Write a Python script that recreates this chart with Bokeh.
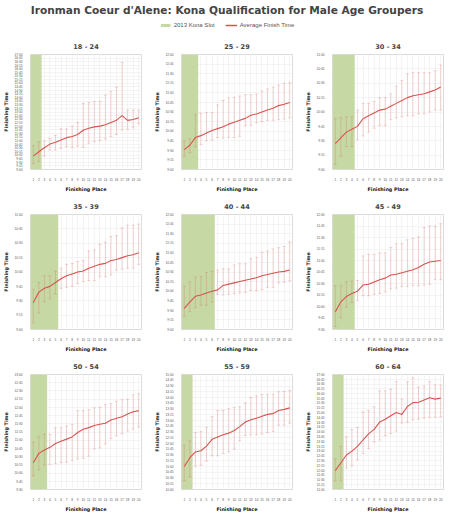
from bokeh.plotting import figure
from bokeh.layouts import gridplot, column
from bokeh.models import (Range1d, FixedTicker, CustomJSTickFormatter, BoxAnnotation,
                          Whisker, TeeHead, ColumnDataSource, Legend, LegendItem)
from bokeh.embed import file_html
from bokeh.resources import INLINE

TITLE = "Ironman Coeur d'Alene: Kona Qualification for Male Age Groupers"
LEGEND_SLOT = "2013 Kona Slot"
LEGEND_AVG = "Average Finish Time"
X_LABEL = "Finishing Place"
Y_LABEL = "Finishing Time"

places = [1, 2, 3, 4, 5, 6, 7, 8, 9, 10, 11, 12, 13, 14, 15, 16, 17, 18, 19, 20]
age_groups = ["18 - 24", "25 - 29", "30 - 34", "35 - 39", "40 - 44", "45 - 49",
              "50 - 54", "55 - 59", "60 - 64"]
kona_slots = [2, 3, 4, 5, 6, 4, 3, 2, 2]
# y axis extent per panel, minutes since midnight (9:00 = 540)
y_start = [540, 540, 540, 540, 540, 570, 570, 600, 660]
y_end = [1020, 720, 660, 660, 720, 720, 780, 900, 1020]

# finishing times in minutes
avg_18_24 = [596, 614, 631, 646, 654, 663, 673, 678, 686, 704, 712, 718, 721, 727, 736, 746, 765, 745, 749, 756]
max_18_24 = [640, 655, 659, 669, 682, 710, 710, 721, 736, 816, 820, 823, 825, 851, 866, 883, 987, 788, 788, 788]
min_18_24 = [565, 573, 596, 621, 622, 628, 635, 631, 637, 633, 650, 656, 660, 667, 678, 686, 705, 708, 714, 730]

avg_25_29 = [571, 578, 590, 593, 597, 601, 604, 607, 611, 614, 617, 620, 625, 627, 630, 633, 636, 640, 642, 645]
max_25_29 = [585, 588, 626, 628, 629, 629, 641, 648, 652, 653, 655, 657, 657, 658, 663, 666, 669, 672, 675, 676]
min_25_29 = [561, 566, 576, 579, 585, 586, 590, 589, 590, 590, 592, 608, 609, 613, 615, 617, 617, 618, 619, 621]

avg_30_34 = [567, 573, 579, 582, 585, 593, 596, 599, 602, 603, 606, 609, 612, 615, 617, 618, 619, 621, 623, 626]
max_30_34 = [593, 594, 595, 595, 602, 609, 609, 611, 615, 615, 619, 627, 633, 640, 641, 641, 641, 641, 643, 649]
min_30_34 = [545, 554, 564, 564, 571, 575, 579, 583, 586, 586, 592, 594, 595, 596, 596, 598, 598, 600, 602, 602]

avg_35_39 = [568, 579, 583, 585, 589, 593, 596, 598, 600, 601, 604, 606, 608, 609, 612, 613, 615, 617, 618, 620]
max_35_39 = [582, 589, 596, 596, 601, 604, 608, 609, 611, 612, 622, 623, 629, 631, 637, 638, 646, 649, 649, 650]
min_35_39 = [547, 557, 569, 572, 577, 583, 584, 585, 588, 590, 591, 591, 595, 595, 597, 602, 603, 604, 604, 608]

avg_40_44 = [573, 583, 592, 594, 597, 600, 602, 609, 611, 613, 615, 617, 619, 621, 624, 626, 628, 630, 631, 633]
max_40_44 = [608, 615, 622, 623, 629, 631, 633, 635, 635, 641, 643, 643, 651, 653, 661, 663, 666, 668, 670, 677]
min_40_44 = [561, 568, 574, 578, 578, 583, 595, 594, 595, 596, 597, 598, 601, 601, 602, 606, 606, 613, 614, 616]

avg_45_49 = [593, 606, 613, 617, 620, 628, 629, 632, 635, 637, 641, 642, 644, 646, 648, 651, 655, 658, 659, 660]
max_45_49 = [627, 627, 632, 633, 634, 666, 668, 668, 670, 670, 677, 682, 682, 687, 689, 691, 703, 705, 705, 708]
min_45_49 = [574, 585, 599, 605, 608, 614, 614, 616, 617, 619, 623, 624, 626, 626, 627, 627, 628, 629, 635, 635]

avg_50_54 = [619, 636, 642, 647, 654, 658, 662, 666, 674, 680, 683, 687, 689, 691, 697, 700, 703, 708, 712, 714]
max_50_54 = [656, 666, 671, 671, 683, 683, 686, 689, 714, 714, 716, 719, 720, 725, 727, 731, 734, 735, 743, 745]
min_50_54 = [595, 606, 615, 616, 617, 619, 620, 623, 626, 627, 631, 644, 646, 653, 663, 668, 672, 677, 680, 684]

avg_55_59 = [660, 683, 698, 701, 713, 731, 737, 743, 747, 754, 764, 776, 782, 786, 791, 796, 798, 806, 809, 813]
max_55_59 = [716, 727, 749, 751, 762, 790, 806, 806, 811, 814, 816, 826, 840, 844, 848, 848, 849, 855, 856, 858]
min_55_59 = [623, 633, 661, 663, 674, 688, 688, 694, 698, 705, 727, 741, 742, 743, 745, 749, 751, 768, 768, 773]

avg_60_64 = [719, 743, 768, 780, 795, 815, 834, 848, 871, 880, 891, 901, 895, 920, 932, 933, 940, 947, 943, 946]
max_60_64 = [756, 795, 824, 848, 854, 903, 907, 919, 969, 969, 974, 998, 943, 997, 1010, 981, 984, 998, 987, 987]
min_60_64 = [687, 689, 727, 734, 753, 773, 788, 809, 815, 829, 835, 843, 868, 870, 878, 880, 883, 886, 886, 888]

avg_series = [avg_18_24, avg_25_29, avg_30_34, avg_35_39, avg_40_44, avg_45_49, avg_50_54, avg_55_59, avg_60_64]
max_series = [max_18_24, max_25_29, max_30_34, max_35_39, max_40_44, max_45_49, max_50_54, max_55_59, max_60_64]
min_series = [min_18_24, min_25_29, min_30_34, min_35_39, min_40_44, min_45_49, min_50_54, min_55_59, min_60_64]

GREEN = "#c6d9a5"
RED = "#d65450"
BOLD_FONT = "DejaVu Sans"
TICK_FONT = "Liberation Sans"
NAN = float("nan")

fmt_code = """
const h = Math.floor(tick / 60);
const m = Math.round(tick - h * 60);
return h + ':' + (m < 10 ? '0' : '') + m;
"""


def make_panel(i):
    p = figure(width=151, height=160, toolbar_location=None, output_backend="svg",
               x_range=Range1d(0.5, 20.5), y_range=Range1d(y_start[i], y_end[i]),
               min_border_left=25, min_border_right=10, min_border_top=20, min_border_bottom=20)
    p.title.text = age_groups[i]
    p.title.align = "center"
    p.title.text_font = BOLD_FONT
    p.title.text_font_style = "bold"
    p.title.text_font_size = "6.5px"
    p.title.standoff = 7
    p.title.offset = -7

    p.outline_line_color = "#dcdcdc"
    p.background_fill_color = "white"

    yticks = list(range(y_start[i], y_end[i] + 1, 15))
    p.xaxis.ticker = FixedTicker(ticks=places)
    p.yaxis.ticker = FixedTicker(ticks=yticks)
    p.yaxis.formatter = CustomJSTickFormatter(code=fmt_code)
    p.xgrid.ticker = FixedTicker(ticks=places)
    p.ygrid.ticker = FixedTicker(ticks=yticks)
    p.grid.grid_line_color = "#ededed"
    p.grid.grid_line_width = 0.6

    for ax in (p.xaxis, p.yaxis):
        ax.axis_line_color = None
        ax.major_tick_line_color = None
        ax.minor_tick_line_color = None
        ax.major_label_text_font = TICK_FONT
        ax.major_label_text_font_size = "3.2px"
        ax.major_label_text_color = "#555555"
        ax.major_label_standoff = 2
        ax.axis_label_text_font = BOLD_FONT
        ax.axis_label_text_font_style = "bold"
        ax.axis_label_text_font_size = "4.8px"
        ax.axis_label_text_color = "#111111"
        ax.axis_label_standoff = 3
    p.xaxis.axis_label = X_LABEL
    p.yaxis.axis_label = Y_LABEL

    band = BoxAnnotation(right=kona_slots[i] + 0.5, fill_color=GREEN, fill_alpha=1.0,
                         line_alpha=0, level="underlay")
    p.add_layout(band)

    src = ColumnDataSource(dict(x=places, avg=avg_series[i], hi=max_series[i], lo=min_series[i]))
    wk = Whisker(source=src, base="x", upper="hi", lower="lo",
                 line_color=RED, line_alpha=0.3, line_width=0.8, level="underlay",
                 upper_head=TeeHead(size=3, line_color=RED, line_alpha=0.3, line_width=0.8),
                 lower_head=TeeHead(size=3, line_color=RED, line_alpha=0.3, line_width=0.8))
    p.add_layout(wk)
    p.line("x", "avg", source=src, line_color=RED, line_width=1.1)
    return p


header = figure(width=453, height=34, toolbar_location=None, output_backend="svg",
                x_range=Range1d(0, 1), y_range=Range1d(0, 1),
                x_axis_location=None, y_axis_location=None,
                min_border_left=0, min_border_right=0, min_border_top=0, min_border_bottom=0)
header.grid.visible = False
header.outline_line_color = None
header.title.text = TITLE
header.title.align = "center"
header.title.text_font = BOLD_FONT
header.title.text_font_style = "bold"
header.title.text_font_size = "10.6px"
header.title.standoff = 2
# legend-only renderers: their single point is NaN, so nothing is drawn in the frame
r_slot = header.quad(left=[NAN], right=[NAN], top=[NAN], bottom=[NAN],
                     fill_color=GREEN, line_color=None)
r_avg = header.line(x=[NAN], y=[NAN], line_color=RED, line_width=1.5)
legend = Legend(items=[LegendItem(label=LEGEND_SLOT, renderers=[r_slot]),
                       LegendItem(label=LEGEND_AVG, renderers=[r_avg])],
                orientation="horizontal", location="center",
                label_text_font=TICK_FONT, label_text_font_size="6px",
                label_text_color="#555555", glyph_width=12, glyph_height=4,
                label_standoff=3, spacing=10, padding=0, margin=0,
                label_height=6, border_line_color=None, background_fill_alpha=0)
header.add_layout(legend)

panels = [make_panel(i) for i in range(9)]
grid = gridplot([panels[0:3], panels[3:6], panels[6:9]], toolbar_location=None)
layout = column(header, grid)

open("out.html", "w").write(file_html(layout, INLINE, title="Kona Qualification"))
